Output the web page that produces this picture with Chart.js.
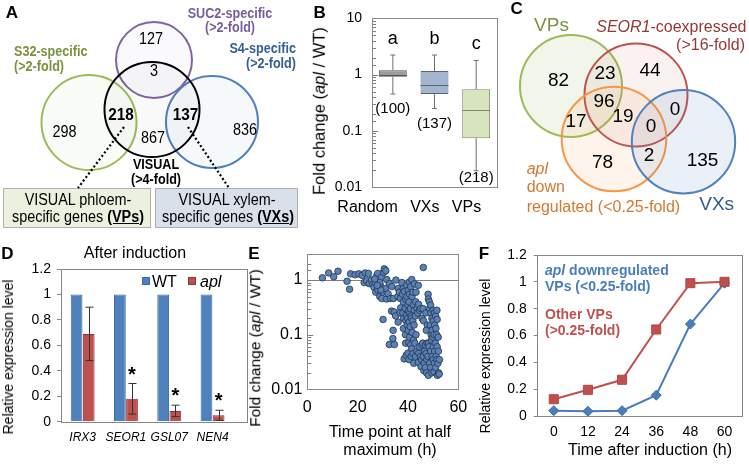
<!DOCTYPE html>
<html>
<head>
<meta charset="utf-8">
<title>VISUAL phloem genes and apl</title>
<script src="https://cdn.jsdelivr.net/npm/chart.js@4.4.1/dist/chart.umd.min.js"></script>
<style>
  body { margin: 0; background: #fff; }
  #fig { position: relative; width: 749px; height: 467px; overflow: hidden; background: #fff;
         font-family: "Liberation Sans", Arial, sans-serif; color: #000; }
  #fig canvas { position: absolute; }
  .txt { position: absolute; white-space: nowrap; line-height: 1; }
  .sq { position: absolute; width: 8px; height: 8px; }
</style>
</head>
<body>
<div id="fig">
  <canvas id="chartA" width="300" height="230" style="left:0;top:0"></canvas>
  <canvas id="chartB" width="210" height="230" style="left:300px;top:0"></canvas>
  <canvas id="chartC" width="249" height="230" style="left:500px;top:0"></canvas>
  <canvas id="chartD" width="250" height="237" style="left:0;top:230px"></canvas>
  <canvas id="chartE" width="230" height="237" style="left:250px;top:230px"></canvas>
  <canvas id="chartF" width="269" height="237" style="left:480px;top:230px"></canvas>
  <div class="sq" style="left:142px;top:277px;background:#4f81bd;border:1px solid #3a6aa3;box-sizing:border-box"></div>
  <div class="sq" style="left:188px;top:277px;background:#c0504d;border:1px solid #8c3533;box-sizing:border-box"></div>
</div>
<script>
const FONT = '"Liberation Sans", Arial, sans-serif';
Chart.defaults.font.family = FONT;
Chart.defaults.color = '#000';

// ---------- data ----------
// A: Venn counts (SUC2, SUC2+VISUAL, S32, S32+VISUAL, VISUAL only, S4+VISUAL, S4)
const vennACounts = [127, 3, 298, 218, 867, 137, 836];
// C: Venn counts
const vennCCounts = [82, 23, 44, 96, 19, 17, 0, 0, 78, 2, 135];

// B: fold change box plots
const boxGroups = ['Random', 'VXs', 'VPs'];
const boxMin = [0.45, 0.25, 0.0195];
const boxQ1 = [0.92, 0.45, 0.074];
const boxMedian = [1.0, 0.64, 0.23];
const boxQ3 = [1.2, 1.16, 0.55];
const boxMax = [2.23, 2.23, 1.78];
const boxLetters = ['a', 'b', 'c'];
const boxCounts = [100, 137, 218];

// D: qRT-PCR after induction
const genes = ['IRX3', 'SEOR1', 'GSL07', 'NEN4'];
const wtLevel = [1, 1, 1, 1];
const aplLevel = [0.69, 0.18, 0.085, 0.05];
const aplError = [0.21, 0.12, 0.045, 0.04];
const aplSignif = [false, true, true, true];

// E: time point at half maximum (h) vs fold change (apl / WT)
const halfMaxPoints = [
  [6,1.1],[8.5,1.35],[10.5,1.15],[12.2,1.45],[15.8,0.95],[16.8,0.68],[17.2,1.3],[19,1.25],[20.5,1.3],[21.8,1.22],
  [23,1.35],[24.3,1.32],[22.6,0.9],[23.6,0.97],[24.6,0.86],
  [25.5,1.0],[26,0.84],[26.5,0.74],[27,0.9],[27.2,0.6],[27.6,1.2],[28,1.32],[28.1,0.66],[28.5,0.96],[28.8,0.5],
  [29,0.8],[29.4,1.12],[29.6,0.46],[30,0.6],[30.3,1.38],[30.6,1.6],[31.2,1.48],[31,0.7],[31.6,1.02],[31.5,0.45],
  [32.1,0.56],[32.6,0.86],[33.1,0.46],[33.6,0.76],[34.2,0.46],[30.1,0.19],[28.8,0.9],[29.2,0.66],[26.8,1.05],[27.8,0.8],
  [32.6,0.066],[34,0.085],[34.6,0.066],[34.1,0.12],[33.5,0.27],[34.5,0.26],[35.1,0.22],[35.2,1.0],[36.1,0.7],[36,0.5],
  [36.6,0.6],[37,0.46],[37.1,0.31],[36.9,0.25],[36.1,0.17],
  [37.6,0.9],[38.1,0.7],[37.9,0.55],[38.2,0.4],[38,0.25],[38.3,0.2],[38.2,0.13],[38.5,0.036],[38.6,0.62],[39.1,0.45],
  [38.9,0.3],[39.2,0.18],[39,0.1],[39.1,0.07],[39.3,0.042],[39.5,0.8],[39.6,0.5],[39.4,0.23],[39.7,0.15],[40.1,0.65],
  [40,0.35],[40.2,0.27],[39.9,0.2],[40.1,0.12],[40.3,0.072],[40,0.046],[40.4,0.035],[40.5,0.92],[40.6,0.55],[40.4,0.4],
  [40.7,0.25],[40.5,0.17],[40.6,0.09],[41.1,0.75],[41,0.3],[41.2,0.22],[40.9,0.14],[41.1,0.065],[41.3,0.04],[41.5,1.02],
  [41.6,0.5],[41.4,0.2],[41.7,0.11],[41.5,0.055],[42,0.6],[42.1,0.35],[41.9,0.18],[42.2,0.08],[42,0.045],[42.3,0.03],
  [42.6,0.85],[42.5,0.28],[42.4,0.15],[42.7,0.07],[43.1,0.4],[42.9,0.22],[43.2,0.1],[43,0.04],[43.2,0.6],
  [43.6,0.3],[43.5,0.05],[44.1,0.8],[44.2,0.36],[43.9,0.25],[44.3,0.046],[44.1,0.031],[44.6,0.28],[44.5,0.06],[45.1,0.3],
  [45,0.04],[45.2,0.026],[45.6,0.2],[45.5,0.065],[45.4,0.035],[46.1,1.7],[46,0.3],[46.2,0.18],[45.9,0.07],[46.1,0.04],
  [46.3,0.022],[46.6,0.05],[46.5,0.03],[47.1,0.25],[47,0.065],[47.2,0.045],[46.9,0.025],[47.6,0.07],[47.5,0.035],[47.4,0.02],
  [47.7,0.15],[47.3,0.12],
  [48,0.55],[48.1,0.45],[48.2,0.07],[47.9,0.04],[48.1,0.018],[48.5,0.4],[48.6,0.3],[48.4,0.06],[48.6,0.03],[49,0.35],
  [49.1,0.25],[48.9,0.15],[49.2,0.1],[49,0.05],[49.1,0.025],[49.5,0.2],[49.6,0.12],[49.4,0.08],[49.6,0.04],[49.5,0.02],
  [50,0.28],[50.1,0.18],[49.9,0.09],[50.1,0.06],[50,0.035],[50.5,0.25],[50.6,0.15],[50.4,0.1],[50.6,0.05],[50.5,0.03],
  [50.4,0.021],[51,0.22],[51.1,0.13],[50.9,0.07],[51.2,0.04],[51,0.025],[51.5,0.28],[51.6,0.19],[51.4,0.1],[51.6,0.06],
  [51.5,0.035],[51.7,0.018],[52,0.09],[52.1,0.05],[51.9,0.03],[52.2,0.02],[52.5,0.035],[52.4,0.019]
];
const refLevel = 1;

// F: time course
const timeLabels = ['0', '12', '24', '36', '48', '60'];
const aplDownVPs = [0.04, 0.035, 0.04, 0.155, 0.685, 0.99];
const otherVPs = [0.125, 0.195, 0.27, 0.645, 0.99, 1.0];

// ---------- layout (page pixels) ----------
const vennALayout = {
  circles: [
    { x: 154, y: 60, r: 38, color: '#8064a2', fill: 'rgba(128,100,162,0.04)', w: 2 },
    { x: 89, y: 122.5, r: 47.5, color: '#9bbb59', fill: 'rgba(155,187,89,0.05)', w: 2 },
    { x: 212, y: 122, r: 46, color: '#4f81bd', fill: 'rgba(79,129,189,0.05)', w: 2 },
    { x: 152, y: 109.5, r: 47.5, color: '#000', fill: 'rgba(0,0,0,0.025)', w: 2 }
  ],
  spots: [
    { x: 151, y: 39.5 }, { x: 154, y: 72 }, { x: 64.5, y: 133 }, { x: 121, y: 115.5, bold: true },
    { x: 153, y: 138.5 }, { x: 185.5, y: 115.5, bold: true }, { x: 245, y: 130.5 }
  ],
  size: 16, squeeze: 0.9
};
const vennCLayout = {
  circles: [
    { x: 571, y: 86, r: 51, color: '#9bbb59', fill: 'rgba(155,187,89,0.13)', w: 2 },
    { x: 636, y: 95, r: 51.5, color: '#c0504d', fill: 'rgba(192,80,77,0.08)', w: 2 },
    { x: 614, y: 139, r: 52.3, color: '#f79646', fill: 'rgba(247,150,70,0.1)', w: 2 },
    { x: 683.5, y: 141.7, r: 51.7, color: '#4f81bd', fill: 'rgba(79,129,189,0.12)', w: 2 }
  ],
  spots: [
    { x: 558.5, y: 80.5 }, { x: 605, y: 74 }, { x: 650, y: 70.5 }, { x: 604, y: 102 }, { x: 623, y: 116.5 },
    { x: 576, y: 121.5 }, { x: 651, y: 127 }, { x: 675, y: 110 }, { x: 602.5, y: 163 }, { x: 649, y: 156 },
    { x: 702.5, y: 161 }
  ],
  size: 19, squeeze: 1
};

// ---------- plugins ----------
function frame(color, extraRight) {
  return {
    id: 'frame',
    afterDraw(chart) {
      const a = chart.chartArea, ctx = chart.ctx;
      ctx.save();
      ctx.strokeStyle = color;
      ctx.lineWidth = 1;
      ctx.strokeRect(Math.round(a.left) + 0.5, Math.round(a.top) + 0.5,
        Math.round(a.right + (extraRight || 0) - a.left), Math.round(a.bottom - a.top));
      ctx.restore();
    }
  };
}

function isDecade(v) {
  const l = Math.log10(v);
  return Math.abs(l - Math.round(l)) < 1e-6;
}

// log axes in B and E have small tick marks pointing into the plot
const inwardLogTicks = {
  id: 'inwardLogTicks',
  afterDraw(chart) {
    const y = chart.scales.y, a = chart.chartArea, ctx = chart.ctx;
    ctx.save();
    ctx.strokeStyle = '#808080';
    ctx.lineWidth = 1;
    y.ticks.forEach(t => {
      const p = Math.round(y.getPixelForValue(t.value)) + 0.5;
      if (p < a.top + 1 || p > a.bottom - 1) return;
      ctx.beginPath();
      ctx.moveTo(a.left, p);
      ctx.lineTo(a.left + (isDecade(t.value) ? 6 : 4), p);
      ctx.stroke();
    });
    ctx.restore();
  }
};

function vennPlugin(layout, counts, extra) {
  return {
    id: 'venn',
    afterDraw(chart) {
      const ctx = chart.ctx, sx = chart.scales.x, sy = chart.scales.y;
      const px = v => sx.getPixelForValue(v), py = v => sy.getPixelForValue(v);
      const unit = Math.abs(sx.getPixelForValue(1) - sx.getPixelForValue(0));
      ctx.save();
      layout.circles.forEach(c => {
        ctx.beginPath();
        ctx.arc(px(c.x), py(c.y), c.r * unit, 0, Math.PI * 2);
        ctx.fillStyle = c.fill;
        ctx.fill();
        ctx.lineWidth = c.w;
        ctx.strokeStyle = c.color;
        ctx.stroke();
      });
      if (extra) extra(ctx, px, py);
      ctx.fillStyle = '#000';
      ctx.textAlign = 'center';
      ctx.textBaseline = 'middle';
      counts.forEach((n, i) => {
        const s = layout.spots[i];
        ctx.save();
        ctx.translate(px(s.x), py(s.y));
        ctx.scale(layout.squeeze, 1);
        ctx.font = (s.bold ? 'bold ' + (layout.size + 1) : layout.size) + 'px ' + FONT;
        ctx.fillText(String(n), 0, 0);
        ctx.restore();
      });
      ctx.restore();
    }
  };
}

// dotted pointers and the two gene-set boxes of panel A
function vennAExtras(ctx, px, py) {
  ctx.save();
  ctx.fillStyle = '#ebf1de';
  ctx.fillRect(px(3.5), py(188.5), px(150.5) - px(3.5), py(227.5) - py(188.5));
  ctx.fillStyle = '#d9e0ea';
  ctx.fillRect(px(155.5), py(188.5), px(297.5) - px(155.5), py(227.5) - py(188.5));
  ctx.strokeStyle = '#6b6b6b';
  ctx.lineWidth = 1;
  ctx.setLineDash([1, 1]);
  ctx.strokeRect(px(3.5), py(188.5), px(150.5) - px(3.5), py(227.5) - py(188.5));
  ctx.strokeRect(px(155.5), py(188.5), px(297.5) - px(155.5), py(227.5) - py(188.5));
  ctx.strokeStyle = '#000';
  ctx.lineWidth = 2.2;
  ctx.setLineDash([2, 2.4]);
  ctx.beginPath();
  ctx.moveTo(px(124), py(127)); ctx.lineTo(px(78), py(188));
  ctx.moveTo(px(188), py(127)); ctx.lineTo(px(229), py(188));
  ctx.stroke();
  ctx.restore();
}

const boxPlot = {
  id: 'boxPlot',
  afterDatasetsDraw(chart) {
    const ctx = chart.ctx, y = chart.scales.y, a = chart.chartArea;
    const bars = chart.getDatasetMeta(0).data;
    ctx.save();
    bars.forEach((bar, i) => {
      const x = bar.x, half = bar.width / 2;
      const yMin = y.getPixelForValue(boxMin[i]), yMax = y.getPixelForValue(boxMax[i]);
      const yQ1 = y.getPixelForValue(boxQ1[i]), yQ3 = y.getPixelForValue(boxQ3[i]);
      const yMed = Math.round(y.getPixelForValue(boxMedian[i])) + 0.5;
      ctx.strokeStyle = boxEdge[i];
      ctx.lineWidth = 1;
      ctx.beginPath();
      ctx.moveTo(x - half, yMed); ctx.lineTo(x + half, yMed);
      ctx.stroke();
      ctx.strokeStyle = '#707070';
      ctx.beginPath();
      ctx.moveTo(x, yQ3); ctx.lineTo(x, yMax);
      ctx.moveTo(x, yQ1); ctx.lineTo(x, yMin);
      ctx.moveTo(x - 2.5, yMax); ctx.lineTo(x + 2.5, yMax);
      ctx.moveTo(x - 2.5, yMin); ctx.lineTo(x + 2.5, yMin);
      ctx.stroke();
      ctx.fillStyle = '#000';
      ctx.textAlign = 'center';
      ctx.textBaseline = 'middle';
      ctx.font = '18px ' + FONT;
      ctx.fillText(boxLetters[i], x, yMax - 16);
      ctx.font = '15px ' + FONT;
      ctx.fillText('(' + boxCounts[i] + ')', x, Math.min(yMin + 15, a.bottom - 9));
    });
    ctx.restore();
  }
};

const errorBars = {
  id: 'errorBars',
  afterDatasetsDraw(chart) {
    const ctx = chart.ctx, y = chart.scales.y;
    const bars = chart.getDatasetMeta(1).data;
    ctx.save();
    bars.forEach((bar, i) => {
      const top = y.getPixelForValue(aplLevel[i] + aplError[i]);
      const bot = y.getPixelForValue(Math.max(aplLevel[i] - aplError[i], 0));
      const x = Math.round(bar.x) + 0.5;
      ctx.strokeStyle = '#333';
      ctx.lineWidth = 1;
      ctx.beginPath();
      ctx.moveTo(x, top); ctx.lineTo(x, bot);
      ctx.moveTo(x - 4, top); ctx.lineTo(x + 4, top);
      ctx.moveTo(x - 4, bot); ctx.lineTo(x + 4, bot);
      ctx.stroke();
      if (aplSignif[i]) {
        ctx.fillStyle = '#000';
        ctx.font = 'bold 20px ' + FONT;
        ctx.textAlign = 'center';
        ctx.textBaseline = 'alphabetic';
        ctx.fillText('*', bar.x, top - 3);
      }
    });
    ctx.restore();
  }
};

const refLine = {
  id: 'refLine',
  beforeDatasetsDraw(chart) {
    const ctx = chart.ctx, y = chart.scales.y, a = chart.chartArea;
    const p = Math.round(y.getPixelForValue(refLevel)) + 0.5;
    ctx.save();
    ctx.strokeStyle = '#808080';
    ctx.lineWidth = 1;
    ctx.beginPath();
    ctx.moveTo(a.left, p); ctx.lineTo(a.right, p);
    ctx.stroke();
    ctx.restore();
  }
};

const noLegend = { legend: { display: false }, tooltip: { enabled: false } };
const fmt1 = v => String(Math.round(v * 10) / 10);
const logLabel = v => isDecade(v) ? String(+Number(v).toPrecision(6)) : '';

// ---------- A: Venn ----------
new Chart(document.getElementById('chartA'), {
  type: 'scatter',
  data: { datasets: [] },
  options: {
    responsive: false, animation: false, plugins: noLegend,
    scales: {
      x: { type: 'linear', min: 0, max: 300, display: false },
      y: { type: 'linear', min: 0, max: 230, reverse: true, display: false }
    }
  },
  plugins: [vennPlugin(vennALayout, vennACounts, vennAExtras)]
});

// ---------- B: box plot ----------
const boxFill = ['#9c9c9c', '#a5b5d0', '#d7e4bd'];
const boxEdge = ['#555555', '#56657f', '#7d8a68'];
const chartB = new Chart(document.getElementById('chartB'), {
  type: 'bar',
  data: {
    labels: boxGroups,
    datasets: [{
      data: boxGroups.map((g, i) => [boxQ1[i], boxQ3[i]]),
      backgroundColor: boxFill,
      borderColor: boxEdge,
      borderWidth: 1,
      borderSkipped: false,
      barPercentage: 0.67,
      categoryPercentage: 1
    }]
  },
  options: {
    responsive: false, animation: false, plugins: noLegend,
    layout: { padding: { left: 0, top: 11, right: 13, bottom: 0 } },
    scales: {
      x: {
        grid: { display: false, drawTicks: false }, border: { display: false },
        ticks: { display: false },
        afterFit(s) { s.height = 43; }
      },
      y: {
        type: 'logarithmic', min: 0.01, max: 10,
        grid: { display: false, drawTicks: false }, border: { display: false },
        ticks: { autoSkip: false, padding: 10, font: { size: 14 }, callback: logLabel },
        afterFit(s) { s.width = 72; }
      }
    }
  },
  plugins: [boxPlot, inwardLogTicks, frame('#8a8a8a')]
});

// ---------- C: Venn ----------
new Chart(document.getElementById('chartC'), {
  type: 'scatter',
  data: { datasets: [] },
  options: {
    responsive: false, animation: false, plugins: noLegend,
    scales: {
      x: { type: 'linear', min: 500, max: 749, display: false },
      y: { type: 'linear', min: 0, max: 230, reverse: true, display: false }
    }
  },
  plugins: [vennPlugin(vennCLayout, vennCCounts)]
});

// ---------- D: bars ----------
const chartD = new Chart(document.getElementById('chartD'), {
  type: 'bar',
  data: {
    labels: genes,
    datasets: [
      { label: 'WT', data: wtLevel, backgroundColor: '#4f81bd', borderColor: '#3a6aa3', borderWidth: 1,
        barPercentage: 0.97, categoryPercentage: 0.56 },
      { label: 'apl', data: aplLevel, backgroundColor: '#c0504d', borderColor: '#8c3533', borderWidth: 1,
        barPercentage: 0.97, categoryPercentage: 0.56 }
    ]
  },
  options: {
    responsive: false, animation: false, plugins: noLegend,
    layout: { padding: { left: 0, top: 39, right: 15.8, bottom: 0 } },
    scales: {
      x: {
        grid: { display: false, drawTicks: false }, border: { display: false },
        ticks: { display: false },
        afterFit(s) { s.height = 45.3; }
      },
      y: {
        min: 0, max: 1.2,
        grid: { display: true, drawOnChartArea: false, drawTicks: true, tickLength: 4, color: '#868686' },
        border: { display: false },
        ticks: { stepSize: 0.2, padding: 6, font: { size: 14 }, callback: fmt1 },
        afterFit(s) { s.width = 61; }
      }
    }
  },
  plugins: [errorBars, frame('#868686', 12.8)]
});

// ---------- E: scatter ----------
new Chart(document.getElementById('chartE'), {
  type: 'scatter',
  data: {
    datasets: [{
      data: halfMaxPoints.map(([x, y]) => ({ x, y })),
      backgroundColor: '#5b82b5',
      borderColor: '#22344f',
      borderWidth: 0.8,
      pointRadius: 3.3
    }]
  },
  options: {
    responsive: false, animation: false, plugins: noLegend,
    layout: { padding: { left: 0, top: 24, right: 21.7, bottom: 0 } },
    scales: {
      x: {
        type: 'linear', min: 0, max: 60,
        grid: { display: false, drawTicks: false }, border: { display: false },
        ticks: { stepSize: 20, padding: 9, font: { size: 16 } },
        afterFit(s) { s.height = 77.7; }
      },
      y: {
        type: 'logarithmic', min: 0.01, max: 3,
        grid: { display: false, drawTicks: false }, border: { display: false },
        ticks: { autoSkip: false, padding: 5, font: { size: 16 }, callback: logLabel },
        afterFit(s) { s.width = 57.3; }
      }
    }
  },
  plugins: [refLine, inwardLogTicks, frame('#8a8a8a')]
});

// ---------- F: time course ----------
new Chart(document.getElementById('chartF'), {
  type: 'line',
  data: {
    labels: timeLabels,
    datasets: [
      { label: 'Other VPs', data: otherVPs, borderColor: '#c0504d', backgroundColor: '#c0504d', borderWidth: 2,
        pointStyle: 'rect', pointRadius: 6.4, pointBorderColor: '#b04744', pointBorderWidth: 1, tension: 0 },
      { label: 'apl downregulated VPs', data: aplDownVPs, borderColor: '#4a7ebb', backgroundColor: '#4a7ebb', borderWidth: 2,
        pointStyle: 'rectRot', pointRadius: 5, pointBorderColor: '#3c6ca6', pointBorderWidth: 1, tension: 0 }
    ]
  },
  options: {
    responsive: false, animation: false, plugins: noLegend,
    layout: { padding: { left: 0, top: 25, right: 5, bottom: 0 } },
    scales: {
      x: {
        offset: true,
        grid: { display: false, drawTicks: false }, border: { display: false },
        ticks: { padding: 8, font: { size: 14 } },
        afterFit(s) { s.height = 51; }
      },
      y: {
        min: 0, max: 1.2,
        grid: { display: true, drawOnChartArea: false, drawTicks: true, tickLength: 3, color: '#868686' },
        border: { display: false },
        ticks: { stepSize: 0.2, padding: 7, font: { size: 14 }, callback: fmt1 },
        afterFit(s) { s.width = 56.7; }
      }
    }
  },
  plugins: [frame('#868686')]
});

// ---------- text annotations ----------
// [html, x, y, align (c/l/r/v), font, color, horizontal squeeze]
const PURPLE = '#7a5c9c', GREEN = '#77933c', BLUE = '#366092';
const texts = [
  ['A', 12, 11.5, 'c', 'bold 17px'], ['B', 319.7, 11.7, 'c', 'bold 17px'], ['C', 516.7, 7.5, 'c', 'bold 17px'],
  ['D', 7.5, 252.5, 'c', 'bold 17px'], ['E', 254, 252.5, 'c', 'bold 17px'], ['F', 484, 252.5, 'c', 'bold 17px'],

  ['SUC2-specific', 229.5, 13.3, 'c', 'bold 14px', PURPLE, 0.9],
  ['(&gt;2-fold)', 229.5, 27.3, 'c', 'bold 14px', PURPLE, 0.9],
  ['S32-specific', 14, 50.7, 'l', 'bold 14px', GREEN, 0.9],
  ['(&gt;2-fold)', 14, 65.7, 'l', 'bold 14px', GREEN, 0.9],
  ['S4-specific', 296, 48.3, 'r', 'bold 14px', BLUE, 0.9],
  ['(&gt;2-fold)', 296, 63.3, 'r', 'bold 14px', BLUE, 0.9],
  ['VISUAL', 155.7, 164, 'c', 'bold 14px', '#000', 0.9],
  ['(&gt;4-fold)', 155.7, 179, 'c', 'bold 14px', '#000', 0.9],
  ['VISUAL phloem-', 77.5, 200, 'c', '16px', '#000', 0.9],
  ['specific genes <b><u>(VPs)</u></b>', 77.5, 216.5, 'c', '16px', '#000', 0.9],
  ['VISUAL xylem-', 226.5, 200, 'c', '16px', '#000', 0.9],
  ['specific genes <b><u>(VXs)</u></b>', 228, 216.5, 'c', '16px', '#000', 0.9],

  ['Fold change (<i>apl</i> / WT)', 319, 111, 'v', '16.5px'],

  ['VPs', 551.5, 24, 'c', '19px', GREEN],
  ['<i>SEOR1</i>-coexpressed', 746.5, 27.3, 'r', '16px', '#953735'],
  ['(&gt;16-fold)', 745, 45, 'r', '16px', '#953735'],
  ['<i>apl</i>', 526.7, 169.3, 'l', '16px', '#d2792f'],
  ['down', 526.7, 186.7, 'l', '16px', '#d2792f'],
  ['regulated (&lt;0.25-fold)', 526.7, 206.7, 'l', '16px', '#d2792f'],
  ['VXs', 716.7, 203.3, 'c', '19px', '#2e5a8e'],

  ['After induction', 135, 253, 'c', '16px'],
  ['Relative expression level', 8, 357, 'v', '14px'],
  ['WT', 152, 281.7, 'l', '16px'],
  ['<i>apl</i>', 200, 281.7, 'l', '16px'],

  ['Fold change (<i>apl</i> / WT)', 255, 348, 'v', '15.5px'],
  ['Time point at half', 390, 431.7, 'c', '16px'],
  ['maximum (h)', 390, 450, 'c', '16px'],

  ['Relative expression level', 485, 356, 'v', '14px'],
  ['Time after induction (h)', 650, 450, 'c', '16px'],
  ['<i>apl</i> downregulated', 545, 270, 'l', 'bold 14px', '#4a7ebb'],
  ['VPs (&lt;0.25-fold)', 545, 285.5, 'l', 'bold 14px', '#4a7ebb'],
  ['Other VPs', 545, 314, 'l', 'bold 14px', '#c0504d'],
  ['(&gt;0.25-fold)', 545, 330, 'l', 'bold 14px', '#c0504d']
];

const fig = document.getElementById('fig');
texts.forEach(([html, x, y, align, font, color, squeeze]) => {
  const d = document.createElement('div');
  d.className = 'txt';
  d.innerHTML = html;
  d.style.left = x + 'px';
  d.style.top = y + 'px';
  d.style.font = font + ' ' + FONT;
  d.style.lineHeight = '1';
  d.style.color = color || '#000';
  const s = squeeze || 1;
  if (align === 'c') { d.style.transform = 'translate(-50%,-50%) scaleX(' + s + ')'; }
  else if (align === 'l') { d.style.transformOrigin = 'left center'; d.style.transform = 'translateY(-50%) scaleX(' + s + ')'; }
  else if (align === 'r') { d.style.transformOrigin = 'right center'; d.style.transform = 'translate(-100%,-50%) scaleX(' + s + ')'; }
  else { d.style.transform = 'translate(-50%,-50%) rotate(-90deg)'; }
  fig.appendChild(d);
});

// category labels under B and D, positioned from the chart's own x scale
// anchor 'end': label ends just right of its tick; 'middle': centred on it
function categoryLabels(chart, offX, offY, font, anchor, dx, dy) {
  const x = chart.scales.x, a = chart.chartArea;
  chart.data.labels.forEach((lab, i) => {
    const d = document.createElement('div');
    d.className = 'txt';
    d.textContent = lab;
    d.style.font = font + ' ' + FONT;
    d.style.lineHeight = '1';
    d.style.left = (offX + x.getPixelForTick(i) + dx) + 'px';
    d.style.top = (offY + a.bottom + dy) + 'px';
    d.style.transform = anchor === 'end' ? 'translate(-100%,-50%)' : 'translate(-50%,-50%)';
    fig.appendChild(d);
  });
}
categoryLabels(chartB, 300, 0, '16px', 'end', 5, 20);
categoryLabels(chartD, 0, 230, 'italic 12px', 'middle', 0, 15);
</script>
</body>
</html>
